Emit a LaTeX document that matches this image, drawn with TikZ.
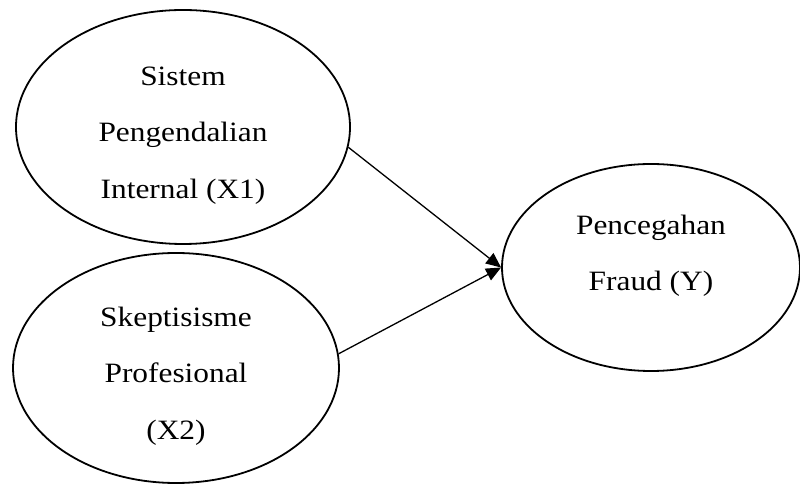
\documentclass[tikz,border=0pt]{standalone}
\usepackage{fontspec}
\setmainfont{Liberation Serif}[FakeStretch=1.12]
\usetikzlibrary{arrows.meta,shapes.geometric}

\begin{document}
\begin{tikzpicture}[x=0.5pt,y=-0.5pt,
    var/.style={ellipse,draw,line width=0.9pt,inner sep=0pt,align=center,font=\fontsize{14pt}{28.25pt}\selectfont},
    link/.style={-{Triangle[length=7.5pt,width=6.5pt]},line width=0.65pt}]
    \useasboundingbox(0,0)rectangle(800,486);
    \node[var,minimum width=167pt,minimum height=117pt](x1) at (183,127){\rule{0pt}{17.5pt}Sistem\\Pengendalian\\Internal (X1)};
    \node[var,minimum width=163pt,minimum height=115pt](x2) at (176,368){\rule{0pt}{17.5pt}Skeptisisme\\Profesional\\(X2)};
    \node[var,minimum width=149pt,minimum height=103.5pt](y) at (651,267.5){Pencegahan\\Fraud (Y)\rule[-14.5pt]{0pt}{0pt}};
    \path(x1.-7)[link]edge(y.west);
    \path(x2.5)[link]edge(y.west);
\end{tikzpicture}
\end{document}
